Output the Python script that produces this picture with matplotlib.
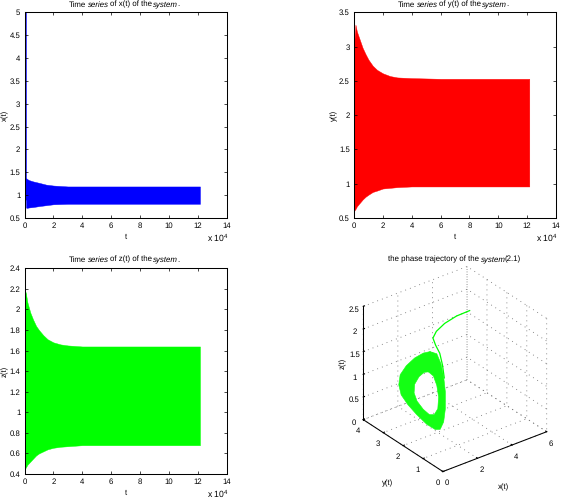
import matplotlib
matplotlib.use('Agg')
import matplotlib.pyplot as plt
from mpl_toolkits.mplot3d.art3d import Poly3DCollection

plt.rcParams['font.family'] = ['Liberation Sans', 'DejaVu Sans']
plt.rcParams['mathtext.fontset'] = 'custom'
plt.rcParams['mathtext.rm'] = 'Liberation Sans'
plt.rcParams['text.hinting'] = 'no_hinting'
plt.rcParams['font.size'] = 5.6
plt.rcParams['axes.linewidth'] = 0.75

W, H = 561, 498

# envelopes
t_x = [0, 1000, 1050, 1500, 3000, 6000, 10000, 15000, 20000, 30000, 40000, 60000, 90000, 121500]
x_up = [5, 5, 1.38, 1.36, 1.33, 1.3, 1.27, 1.23, 1.21, 1.19, 1.19, 1.19, 1.19, 1.19]
x_lo = [0.9, 0.9, 0.73, 0.72, 0.73, 0.74, 0.76, 0.78, 0.8, 0.81, 0.81, 0.81, 0.81, 0.81]

t_y = [0, 1000, 2000, 4000, 6000, 8000, 10000, 13000, 16000, 20000, 25000, 30000, 40000, 60000, 90000, 121500]
y_up = [3.0, 3.32, 3.22, 3.1, 2.98, 2.89, 2.81, 2.72, 2.66, 2.61, 2.57, 2.55, 2.54, 2.53, 2.53, 2.53]
y_lo = [0.6, 0.63, 0.67, 0.72, 0.77, 0.81, 0.84, 0.88, 0.9, 0.93, 0.94, 0.95, 0.96, 0.96, 0.96, 0.96]

t_z = [0, 800, 2000, 4000, 6000, 8000, 10000, 13000, 16000, 20000, 25000, 30000, 40000, 60000, 90000, 121500]
z_up = [2.0, 2.17, 2.07, 1.97, 1.9, 1.84, 1.8, 1.75, 1.71, 1.68, 1.66, 1.65, 1.64, 1.64, 1.64, 1.64]
z_lo = [0.45, 0.46, 0.49, 0.52, 0.55, 0.58, 0.6, 0.62, 0.64, 0.655, 0.665, 0.67, 0.68, 0.68, 0.68, 0.68]

t_ticks = [0, 20000, 40000, 60000, 80000, 100000, 120000, 140000]
t_labels = ['0', '2', '4', '6', '8', '10', '12', '14']

# phase trajectory: transient, outer and inner edge of the band
tr_x = [5, 4.2, 3.2, 2.2, 1.6, 1.2, 1.05, 1, 1]
tr_y = [3.0, 2.96, 2.69, 2.24, 1.89, 1.41, 1.07, 0.89, 0.8]
tr_z = [1.96, 1.97, 2.03, 2.13, 2.17, 2.21, 2.15, 1.95, 1.69]

out_y = [1.54, 1.2, 0.99, 0.855, 0.77, 0.77, 0.855, 1.03, 1.28, 1.71, 2.22, 2.65, 2.99, 3.11, 3.04, 2.73, 2.31, 1.88]
out_z = [2.07, 2.12, 1.96, 1.71, 1.4, 1.03, 0.715, 0.5, 0.425, 0.42, 0.49, 0.58, 0.7, 0.89, 1.13, 1.42, 1.71, 1.94]
in_y = [1.62, 1.37, 1.2, 1.11, 1.15, 1.33, 1.57, 1.88, 2.19, 2.34, 2.31, 2.09, 1.83]
in_z = [1.6, 1.58, 1.42, 1.19, 0.92, 0.74, 0.67, 0.7, 0.79, 0.93, 1.13, 1.36, 1.53]
loop_x = 1


def panel(l, t, r, b):
    return [l / W, 1 - b / H, (r - l) / W, (b - t) / H]


def title_parts(x, y, parts):
    # some words of the titles are slanted, so the title is laid out piece by piece
    rend = fig.canvas.get_renderer()
    for word, style, gap in parts:
        t = fig.text(x / W, 1 - y / H, word, style=style, fontsize=5.7, ha='left', va='baseline')
        x += t.get_window_extent(rend).width + gap


def series_title(name):
    return [('Time', 'normal', 1.8), ('series', 'italic', 0.6), ('of %s of the' % name, 'normal', 1.8),
            ('system', 'italic', -1.4), ('.', 'normal', 0)]


def series(pos, t, up, lo, color, ylab, yticks, ylabels, ylim):
    ax = fig.add_axes(panel(*pos))
    ax.fill_between(t, lo, up, color=color, lw=0.3)
    ax.set_xlim(0, 140000)
    ax.set_ylim(*ylim)
    ax.set_xticks(t_ticks, t_labels)
    ax.set_yticks(yticks, ylabels)
    ax.tick_params(direction='in', top=True, right=True, length=2, width=0.5, pad=3)
    ax.set_xlabel('t', labelpad=2.5)
    ax.set_ylabel(ylab, labelpad=0.5)
    ax.text(1.01, -0.112, r'x 10$^4$', transform=ax.transAxes, ha='right', va='baseline', fontsize=6.2)
    return ax


fig = plt.figure(figsize=(W / 100, H / 100), dpi=100)

series((24.5, 12.3, 226.7, 218), t_x, x_up, x_lo, '#0000ff', 'x(t)',
       [0.5, 1, 1.5, 2, 2.5, 3, 3.5, 4, 4.5, 5],
       ['0.5', '1', '1.5', '2', '2.5', '3', '3.5', '4', '4.5', '5'], (0.5, 5))
series((354, 12.3, 556, 218), t_y, y_up, y_lo, '#ff0000', 'y(t)',
       [0.5, 1, 1.5, 2, 2.5, 3, 3.5],
       ['0.5', '1', '1.5', '2', '2.5', '3', '3.5'], (0.5, 3.5))
series((24.5, 268.3, 226.7, 474), t_z, z_up, z_lo, '#00ff00', 'z(t)',
       [0.4, 0.6, 0.8, 1, 1.2, 1.4, 1.6, 1.8, 2, 2.2, 2.4],
       ['0.4', '0.6', '0.8', '1', '1.2', '1.4', '1.6', '1.8', '2', '2.2', '2.4'], (0.4, 2.4))

title_parts(69, 6.5, series_title('x(t)'))
title_parts(398, 6.5, series_title('y(t)'))
title_parts(69, 261.5, series_title('z(t)'))
title_parts(388, 261.5, [('the phase trajectory of the', 'normal', 1.8), ('system', 'italic', -0.8),
                         ('(2.1)', 'normal', 0)])

ax = fig.add_axes(panel(342, 262, 562, 482), projection='3d', proj_type='ortho')
ax.view_init(elev=30, azim=-127.5)
ax.set_box_aspect((1, 1, 1))
ax.patch.set_alpha(0)
ax.set_xlim(0, 6)
ax.set_ylim(0, 4)
ax.set_zlim(0, 2.5)
ax.set_xticks([0, 2, 4, 6])
ax.set_yticks([0, 1, 2, 3, 4])
ax.set_zticks([0, 0.5, 1, 1.5, 2, 2.5], ['0', '0.5', '1', '1.5', '2', '2.5'])

band = [(loop_x, a, b) for a, b in zip(out_y + out_y[:1], out_z + out_z[:1])]
band += [(loop_x, a, b) for a, b in zip(in_y[:1] + in_y[::-1], in_z[:1] + in_z[::-1])]
ax.add_collection3d(Poly3DCollection([band], facecolor='#14ff14', edgecolor='#14ff14', linewidth=0.4))
ax.plot(tr_x, tr_y, tr_z, color='#00ff00', lw=0.9)

for axis in (ax.xaxis, ax.yaxis, ax.zaxis):
    axis.set_pane_color((1, 1, 1, 0))
    axis.pane.set_edgecolor('none')
    axis._axinfo['grid'].update(color='#666666', linestyle=(0, (1, 5)), linewidth=0.6)
    axis._axinfo['tick'].update(inward_factor=0.0, outward_factor=0.15)
    axis.line.set_linewidth(0.75)
ax.tick_params(pad=-4, length=2, width=0.5)
fig.text(503 / W, 1 - 487 / H, 'x(t)', ha='center', va='center')
fig.text(388 / W, 1 - 483 / H, 'y(t)', ha='center', va='center')
fig.text(343 / W, 1 - 363 / H, 'z(t)', ha='center', va='center', rotation=90)

fig.savefig('out.png', dpi=100)
